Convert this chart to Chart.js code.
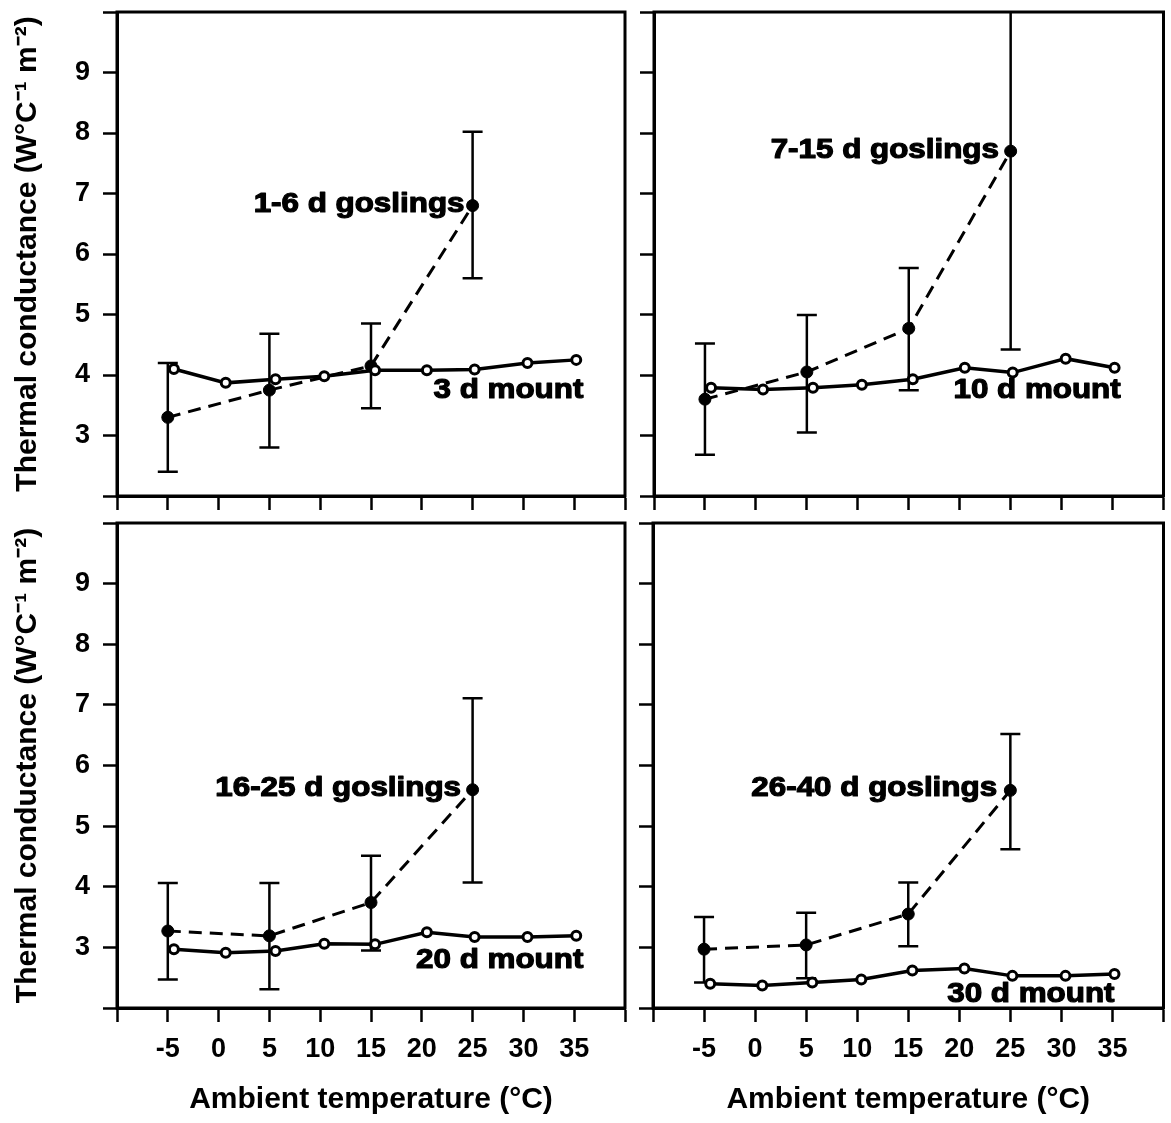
<!DOCTYPE html>
<html>
<head>
<meta charset="utf-8">
<title>Thermal conductance of goslings and mounts</title>
<script src="https://cdn.jsdelivr.net/npm/chart.js@4.4.0/dist/chart.umd.min.js"></script>
<style>
  html, body { margin: 0; padding: 0; background: #fff; }
  #wrap { position: relative; width: 1171px; height: 1123px; overflow: hidden; }
  #wrap canvas { position: absolute; left: 0; top: 0; }
</style>
</head>
<body>
<div id="wrap">
  <canvas id="panel1" width="1171" height="1123"></canvas>
  <canvas id="panel2" width="1171" height="1123"></canvas>
  <canvas id="panel3" width="1171" height="1123"></canvas>
  <canvas id="panel4" width="1171" height="1123"></canvas>
</div>
<script>
// Ambient temperatures (°C)
const goslingTemps = [-5, 5, 15, 25];
const mountTemps = [-4.4, 0.7, 5.6, 10.4, 15.4, 20.5, 25.2, 30.4, 35.2];

// Tick labels that are printed
const xTickLabels = [-5, 0, 5, 10, 15, 20, 25, 30, 35];
const yTickLabels = [3, 4, 5, 6, 7, 8, 9];

// 1-6 d goslings / 3 d mount
const goslings1 = [3.3, 3.75, 4.15, 6.8];
const goslings1Low = [2.4, 2.8, 3.45, 5.6];
const goslings1High = [4.2, 4.68, 4.85, 8.02];
const mount1 = [4.1, 3.87, 3.93, 3.98, 4.08, 4.08, 4.09, 4.2, 4.25];

// 7-15 d goslings / 10 d mount
const goslings2 = [3.6, 4.05, 4.77, 7.7];
const goslings2Low = [2.68, 3.05, 3.75, 4.42];
const goslings2High = [4.52, 4.99, 5.77, 10.0];
const mount2 = [3.79, 3.76, 3.79, 3.84, 3.93, 4.12, 4.04, 4.27, 4.12];

// 16-25 d goslings / 20 d mount
const goslings3 = [3.27, 3.19, 3.74, 5.6];
const goslings3Low = [2.47, 2.31, 2.95, 4.07];
const goslings3High = [4.06, 4.06, 4.51, 7.11];
const mount3 = [2.97, 2.91, 2.94, 3.06, 3.05, 3.25, 3.17, 3.17, 3.19];

// 26-40 d goslings / 30 d mount
const goslings4 = [2.97, 3.04, 3.55, 5.59];
const goslings4Low = [2.42, 2.49, 3.02, 4.62];
const goslings4High = [3.5, 3.57, 4.07, 6.52];
const mount4 = [2.4, 2.37, 2.42, 2.47, 2.62, 2.65, 2.53, 2.53, 2.56];

const goslingNames = ['1-6 d goslings', '7-15 d goslings', '16-25 d goslings', '26-40 d goslings'];
const mountNames = ['3 d mount', '10 d mount', '20 d mount', '30 d mount'];

const FONT = "'Liberation Sans', Arial, Helvetica, sans-serif";
const W = 1171, H = 1123;

Chart.defaults.font.family = FONT;
Chart.defaults.font.weight = 'bold';
Chart.defaults.color = '#000';

// Panel layout (plot area in page pixels) and where the labels sit (data units)
const panels = [
    { id: 'panel1', area: { left: 117, top: 12, right: 625, bottom: 496 }, yLabels: true, xLabels: false,
      gos: goslings1, low: goslings1Low, high: goslings1High, mount: mount1,
      gosName: goslingNames[0], mountName: mountNames[0], gosAt: [24.2, 6.83], mountAt: [35.9, 3.74] },
    { id: 'panel2', area: { left: 654, top: 12, right: 1168, bottom: 496 }, yLabels: false, xLabels: false,
      gos: goslings2, low: goslings2Low, high: goslings2High, mount: mount2,
      gosName: goslingNames[1], mountName: mountNames[1], gosAt: [23.85, 7.72], mountAt: [35.8, 3.74] },
    { id: 'panel3', area: { left: 117, top: 523, right: 625, bottom: 1008 }, yLabels: true, xLabels: true,
      gos: goslings3, low: goslings3Low, high: goslings3High, mount: mount3,
      gosName: goslingNames[2], mountName: mountNames[2], gosAt: [23.86, 5.62], mountAt: [35.9, 2.79] },
    { id: 'panel4', area: { left: 653, top: 523, right: 1168, bottom: 1008 }, yLabels: false, xLabels: true,
      gos: goslings4, low: goslings4Low, high: goslings4High, mount: mount4,
      gosName: goslingNames[3], mountName: mountNames[3], gosAt: [23.7, 5.62], mountAt: [35.2, 2.23] }
];

document.addEventListener('DOMContentLoaded', () => {
    panels.forEach(buildPanel);
});

// Box round the plot area (top and right sides)
const framePlugin = {
    id: 'frame',
    afterDraw(chart) {
        const { ctx, chartArea: a } = chart;
        ctx.save();
        ctx.strokeStyle = '#000';
        ctx.lineWidth = 3;
        ctx.strokeRect(a.left, a.top, a.right - a.left, a.bottom - a.top);
        ctx.restore();
    }
};

// Error bars for the goslings
function errorBarPlugin(p) {
    return {
        id: 'errorBars',
        beforeDatasetsDraw(chart) {
            const { ctx, chartArea: a, scales: { x, y } } = chart;
            ctx.save();
            ctx.beginPath();
            ctx.rect(a.left, a.top - 2, a.right - a.left, a.bottom - a.top + 4);
            ctx.clip();
            ctx.strokeStyle = '#000';
            ctx.lineWidth = 2.5;
            goslingTemps.forEach((t, i) => {
                const px = x.getPixelForValue(t);
                const lo = y.getPixelForValue(p.low[i]);
                const hi = y.getPixelForValue(p.high[i]);
                ctx.beginPath();
                ctx.moveTo(px, lo);
                ctx.lineTo(px, hi);
                ctx.moveTo(px - 10, lo);
                ctx.lineTo(px + 10, lo);
                if (p.high[i] < 10) {
                    ctx.moveTo(px - 10, hi);
                    ctx.lineTo(px + 10, hi);
                }
                ctx.stroke();
            });
            ctx.restore();
        }
    };
}

// Series names written inside the panel (slightly widened, heavy like the print)
function labelPlugin(p) {
    return {
        id: 'seriesLabels',
        afterDatasetsDraw(chart) {
            const { ctx, scales: { x, y } } = chart;
            [[p.gosName, p.gosAt], [p.mountName, p.mountAt]].forEach(([text, at]) => {
                ctx.save();
                ctx.font = 'bold 28px ' + FONT;
                ctx.textAlign = 'right';
                ctx.textBaseline = 'middle';
                ctx.fillStyle = '#000';
                ctx.strokeStyle = '#000';
                ctx.lineWidth = 1.2;
                ctx.lineJoin = 'round';
                ctx.translate(x.getPixelForValue(at[0]), y.getPixelForValue(at[1]));
                ctx.scale(1.12, 1);
                ctx.fillText(text, 0, 0);
                ctx.strokeText(text, 0, 0);
                ctx.restore();
            });
        }
    };
}

function buildPanel(p) {
    const a = p.area;
    const yWidth = p.yLabels ? a.left : 20;
    const xHeight = p.xLabels ? H - a.bottom : 20;

    new Chart(document.getElementById(p.id), {
        type: 'scatter',
        data: {
            datasets: [
                {
                    label: p.mountName,
                    data: mountTemps.map((t, i) => ({ x: t, y: p.mount[i] })),
                    showLine: true,
                    borderColor: '#000',
                    borderWidth: 3.5,
                    pointRadius: 4.5,
                    pointBackgroundColor: '#fff',
                    pointBorderColor: '#000',
                    pointBorderWidth: 3
                },
                {
                    label: p.gosName,
                    data: goslingTemps.map((t, i) => ({ x: t, y: p.gos[i] })),
                    showLine: true,
                    borderColor: '#000',
                    borderWidth: 3,
                    borderDash: [13, 8],
                    pointRadius: 6,
                    pointBackgroundColor: '#000',
                    pointBorderColor: '#000',
                    pointBorderWidth: 1
                }
            ]
        },
        options: {
            responsive: false,
            animation: false,
            devicePixelRatio: 1,
            layout: {
                padding: {
                    left: a.left - yWidth,
                    top: a.top,
                    right: W - a.right,
                    bottom: H - a.bottom - xHeight
                }
            },
            plugins: {
                legend: { display: false },
                tooltip: { enabled: false }
            },
            scales: {
                x: {
                    type: 'linear',
                    min: -10,
                    max: 40,
                    ticks: {
                        stepSize: 5,
                        display: p.xLabels,
                        padding: 11,
                        font: { size: 27, weight: 'bold' },
                        callback: v => xTickLabels.includes(v) ? String(v) : ''
                    },
                    grid: { drawOnChartArea: false, drawTicks: true, tickLength: 14, tickWidth: 2.5, tickColor: '#000' },
                    border: { display: true, color: '#000', width: 3 },
                    title: {
                        display: p.xLabels,
                        text: 'Ambient temperature (°C)',
                        font: { size: 30, weight: 'bold', lineHeight: 1.2 },
                        padding: { top: 0, bottom: 5 }
                    },
                    afterFit(scale) {
                        scale.height = xHeight;
                        scale.paddingLeft = 0;
                        scale.paddingRight = 0;
                    }
                },
                y: {
                    type: 'linear',
                    min: 2,
                    max: 10,
                    ticks: {
                        stepSize: 1,
                        display: p.yLabels,
                        padding: 13,
                        font: { size: 27, weight: 'bold' },
                        callback: v => yTickLabels.includes(v) ? String(v) : ''
                    },
                    grid: { drawOnChartArea: false, drawTicks: true, tickLength: 14, tickWidth: 2.5, tickColor: '#000' },
                    border: { display: true, color: '#000', width: 3 },
                    title: {
                        display: p.yLabels,
                        text: 'Thermal conductance (W°C⁻¹ m⁻²)',
                        font: { size: 30, weight: 'bold', lineHeight: 1.2 },
                        padding: { top: 10, bottom: 0 }
                    },
                    afterFit(scale) {
                        scale.width = yWidth;
                        scale.paddingTop = 0;
                        scale.paddingBottom = 0;
                    }
                }
            }
        },
        plugins: [framePlugin, errorBarPlugin(p), labelPlugin(p)]
    });
}
</script>
</body>
</html>
